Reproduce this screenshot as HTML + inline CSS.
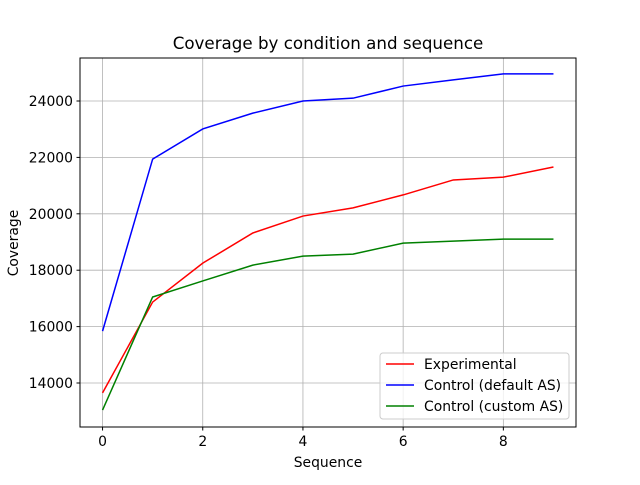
<!DOCTYPE html>
<html><head><meta charset="utf-8"><style>
body{margin:0;background:#fff}
text{font-family:"DejaVu Sans","Liberation Sans",sans-serif;fill:#000}
</style></head><body>
<svg id="chart" width="640" height="480" viewBox="0 0 640 480" xmlns="http://www.w3.org/2000/svg">
<rect width="640" height="480" fill="#fff"/>
<g id="grid"></g>
<g id="series"></g>
<rect x="80" y="58" width="496" height="369" fill="none" stroke="#000" stroke-width="1"/>
<g id="ticks"></g>
<text x="328" y="49" text-anchor="middle" font-size="16.7">Coverage by condition and sequence</text>
<text x="328" y="467" text-anchor="middle" font-size="13.9">Sequence</text>
<text x="18" y="243" text-anchor="middle" font-size="13.9" transform="rotate(-90 18 243)">Coverage</text>
<g id="legend">
<rect x="380" y="353" width="189" height="66" rx="3" fill="#fff" fill-opacity="0.8" stroke="#ccc"/>
</g>
</svg>
<script>
const categories=[0,1,2,3,4,5,6,7,8,9];
const experimental=[13650,16870,18250,19320,19920,20210,20670,21200,21300,21660];
const controlDefault=[15840,21940,23010,23570,24000,24100,24530,24750,24960,24960];
const controlCustom=[13040,17050,17620,18180,18500,18570,18960,19030,19100,19100];
const seriesNames=["Experimental","Control (default AS)","Control (custom AS)"];
const seriesColors=["#ff0000","#0000ff","#008000"];
const xTicks=[0,2,4,6,8];
const yTicks=[14000,16000,18000,20000,22000,24000];
const NS="http://www.w3.org/2000/svg";
const x0=80,x1=576,y0=427,y1=58,xmin=-0.45,xmax=9.45,ymin=12440,ymax=25525;
const sx=v=>x0+(v-xmin)/(xmax-xmin)*(x1-x0);
const sy=v=>y0-(v-ymin)/(ymax-ymin)*(y0-y1);
function mk(tag,attrs,parent){const e=document.createElementNS(NS,tag);for(const k in attrs)e.setAttribute(k,attrs[k]);parent.appendChild(e);return e;}
const grid=document.getElementById('grid'),ticks=document.getElementById('ticks'),ser=document.getElementById('series'),leg=document.getElementById('legend');
xTicks.forEach(t=>{const x=sx(t);
 const g=mk('line',{x1:x,x2:x,y1:y1,y2:y0,stroke:'#b0b0b0','stroke-width':0.8},grid);
 
 
 mk('line',{x1:x,x2:x,y1:y0,y2:y0+3.5,stroke:'#000'},ticks);
 const tx=mk('text',{x:x,y:y0+19,'text-anchor':'middle','font-size':13.9},ticks);tx.textContent=t;
 
 });
yTicks.forEach(t=>{const y=sy(t);
 const g=mk('line',{x1:x0,x2:x1,y1:y,y2:y,stroke:'#b0b0b0','stroke-width':0.8},grid);
 
 
 mk('line',{x1:x0-3.5,x2:x0,y1:y,y2:y,stroke:'#000'},ticks);
 const tx=mk('text',{x:x0-7,y:y+5,'text-anchor':'end','font-size':13.9},ticks);tx.textContent=t;
 
 });
[experimental,controlDefault,controlCustom].forEach((d,i)=>{
 const p=mk('polyline',{points:d.map((v,j)=>sx(categories[j])+','+sy(v)).join(' '),fill:'none',stroke:seriesColors[i],'stroke-width':1.5},ser);
 
 
 const ly=364+i*21;
 mk('line',{x1:386,x2:414,y1:ly,y2:ly,stroke:seriesColors[i],'stroke-width':1.5},leg);
 const t=mk('text',{x:424,y:ly+5,'font-size':13.9},leg);t.textContent=seriesNames[i];
 
 });
</script>
</body></html>
